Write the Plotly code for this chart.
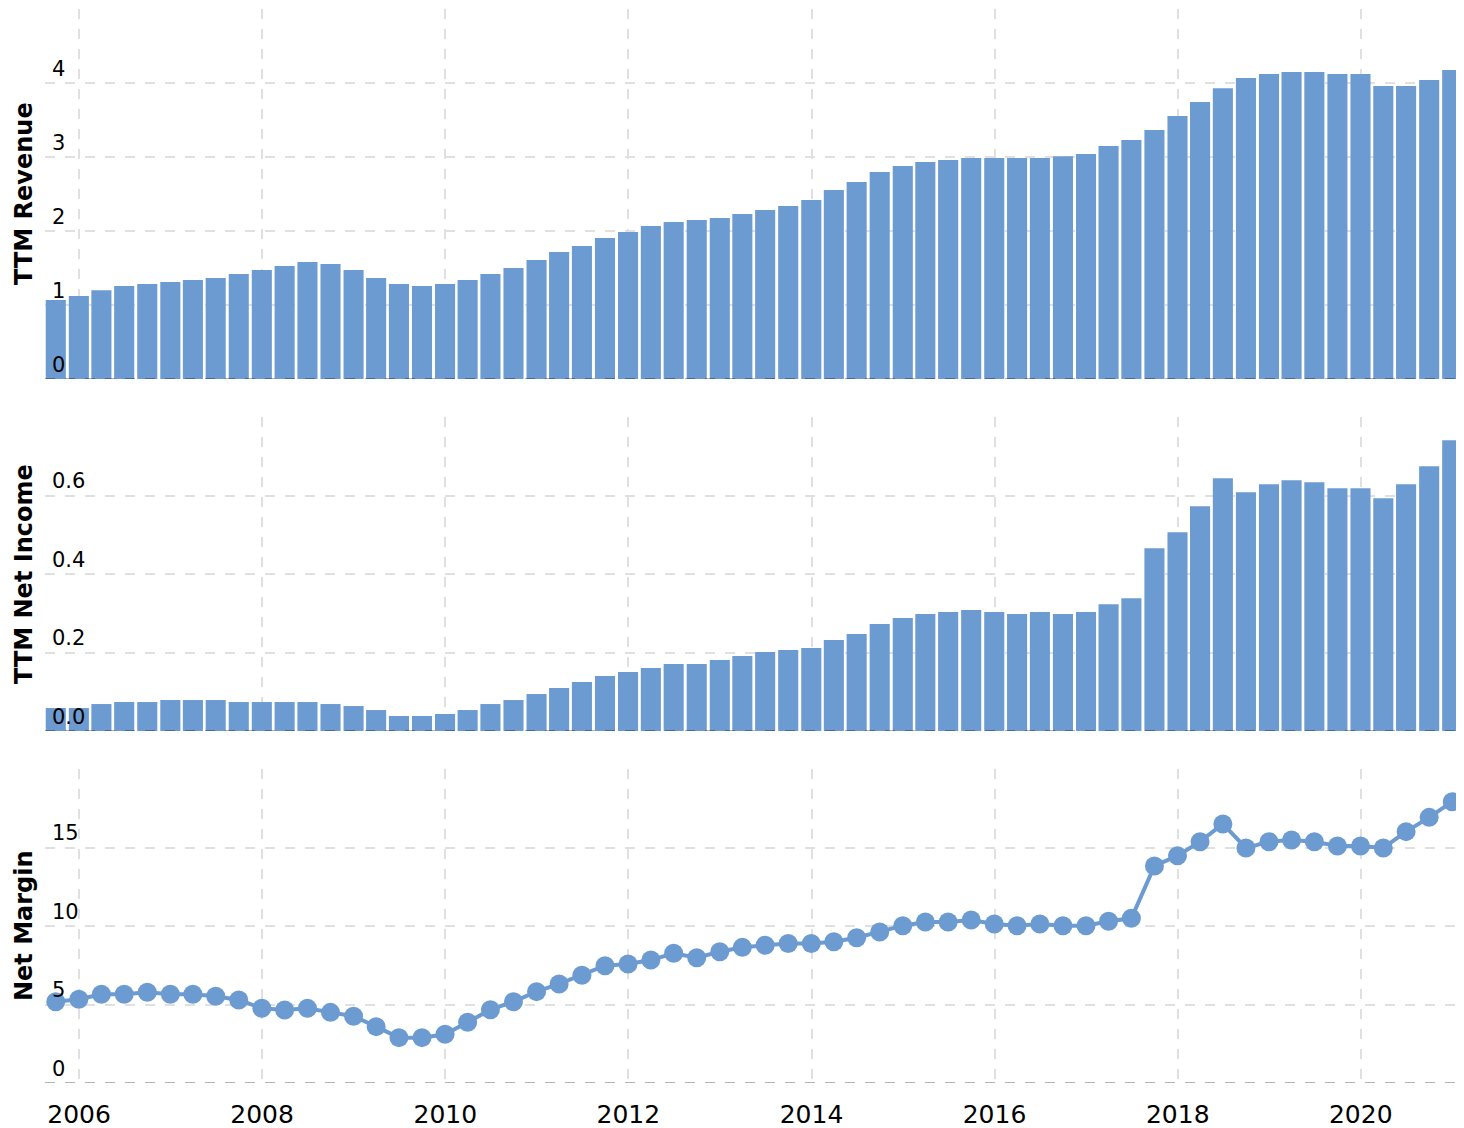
import plotly.graph_objects as go
from plotly.subplots import make_subplots

quarters = [
    "2005-09-30", "2005-12-31",
    "2006-03-31", "2006-06-30", "2006-09-30", "2006-12-31",
    "2007-03-31", "2007-06-30", "2007-09-30", "2007-12-31",
    "2008-03-31", "2008-06-30", "2008-09-30", "2008-12-31",
    "2009-03-31", "2009-06-30", "2009-09-30", "2009-12-31",
    "2010-03-31", "2010-06-30", "2010-09-30", "2010-12-31",
    "2011-03-31", "2011-06-30", "2011-09-30", "2011-12-31",
    "2012-03-31", "2012-06-30", "2012-09-30", "2012-12-31",
    "2013-03-31", "2013-06-30", "2013-09-30", "2013-12-31",
    "2014-03-31", "2014-06-30", "2014-09-30", "2014-12-31",
    "2015-03-31", "2015-06-30", "2015-09-30", "2015-12-31",
    "2016-03-31", "2016-06-30", "2016-09-30", "2016-12-31",
    "2017-03-31", "2017-06-30", "2017-09-30", "2017-12-31",
    "2018-03-31", "2018-06-30", "2018-09-30", "2018-12-31",
    "2019-03-31", "2019-06-30", "2019-09-30", "2019-12-31",
    "2020-03-31", "2020-06-30", "2020-09-30", "2020-12-31",
]

ttm_revenue = [
    1.068, 1.12, 1.20, 1.257, 1.284, 1.31, 1.338, 1.365, 1.419, 1.473,
    1.527, 1.581, 1.554, 1.473, 1.365, 1.284, 1.257, 1.284, 1.338, 1.419,
    1.50, 1.608, 1.716, 1.797, 1.905, 1.986, 2.068, 2.12, 2.149, 2.176,
    2.23, 2.284, 2.338, 2.419, 2.554, 2.662, 2.797, 2.878, 2.932, 2.96,
    2.986, 2.986, 2.986, 2.986, 3.01, 3.04, 3.149, 3.23, 3.365, 3.554,
    3.743, 3.93, 4.068, 4.12, 4.149, 4.149, 4.12, 4.12, 3.959, 3.959,
    4.04, 4.176,
]

ttm_net_income = [
    0.0585, 0.0585, 0.0687, 0.0738, 0.0738, 0.0789, 0.0789, 0.0789, 0.0738, 0.0738,
    0.0738, 0.0738, 0.0687, 0.0636, 0.0534, 0.0382, 0.0382, 0.0433, 0.0534, 0.0687,
    0.0789, 0.0942, 0.1094, 0.1247, 0.14, 0.1502, 0.1603, 0.1705, 0.1705, 0.1807,
    0.1909, 0.2011, 0.2062, 0.2112, 0.2316, 0.2469, 0.2723, 0.2876, 0.2978, 0.3029,
    0.308, 0.3029, 0.2978, 0.3029, 0.2978, 0.3029, 0.3232, 0.3385, 0.4658, 0.5065,
    0.5727, 0.6439, 0.6083, 0.6287, 0.6388, 0.6337, 0.6185, 0.6185, 0.593, 0.6287,
    0.6745, 0.7406,
]

net_margin = [
    5.18, 5.33, 5.65, 5.65, 5.78, 5.65, 5.65, 5.52, 5.29, 4.76,
    4.65, 4.76, 4.50, 4.25, 3.59, 2.89, 2.89, 3.10, 3.87, 4.67,
    5.18, 5.82, 6.31, 6.86, 7.47, 7.58, 7.83, 8.26, 7.98, 8.36,
    8.64, 8.77, 8.88, 8.88, 9.00, 9.25, 9.62, 10.02, 10.25, 10.25,
    10.38, 10.13, 10.02, 10.13, 10.02, 10.02, 10.30, 10.49, 13.82, 14.48,
    15.37, 16.50, 14.97, 15.37, 15.48, 15.37, 15.10, 15.10, 14.97, 16.01,
    16.92, 17.92,
]

panel_titles = ["TTM Revenue", "TTM Net Income", "Net Margin"]
rev_ticks = [0, 1, 2, 3, 4, 5]
rev_ticktext = ["0", "1", "2", "3", "4", ""]
ni_ticks = [0, 0.2, 0.4, 0.6, 0.8]
ni_ticktext = ["0.0", "0.2", "0.4", "0.6", ""]
nm_ticks = [0, 5, 10, 15, 20]
nm_ticktext = ["0", "5", "10", "15", ""]

BLUE = "#6b9bd1"
GRID = "#e0e0e0"
FONT = "DejaVu Sans"

fig = make_subplots(rows=3, cols=1, shared_xaxes=True, vertical_spacing=0.03)

fig.add_trace(go.Bar(x=quarters, y=ttm_revenue, marker=dict(color=BLUE, line=dict(width=0)),
                     showlegend=False), row=1, col=1)
fig.add_trace(go.Bar(x=quarters, y=ttm_net_income, marker=dict(color=BLUE, line=dict(width=0)),
                     showlegend=False), row=2, col=1)
fig.add_trace(go.Scatter(x=quarters, y=net_margin, mode="lines+markers",
                         line=dict(color=BLUE, width=4),
                         marker=dict(color=BLUE, size=19),
                         cliponaxis=False,
                         showlegend=False), row=3, col=1)

# page has an 8px body margin; figure is sized so it fits the window
W, H = 1456, 1120
ML, MR, MT, MB = 37, 4, 1, 45
PLOT_H = float(H - MT - MB)
PLOT_W = float(W - ML - MR)
def dom(top_px, bot_px):
    # positions given in page pixels of the reference
    return [(1083 - bot_px) / PLOT_H, (1083 - top_px) / PLOT_H]

doms = [dom(9, 379), dom(417, 731), dom(769, 1083)]

xrange = ["2005-08-18", "2021-01-31"]
xcommon = dict(range=xrange, type="date", tick0="2006-01-01", dtick="M24",
               showgrid=True, gridcolor=GRID, gridwidth=2, griddash="10px,10px",
               zeroline=False, showline=False, ticks="")
fig.update_xaxes(**xcommon)
fig.update_xaxes(showticklabels=False, row=1, col=1)
fig.update_xaxes(showticklabels=False, row=2, col=1)
fig.update_xaxes(showticklabels=True, tickformat="%Y", ticklabelstandoff=14,
                 tickfont=dict(family=FONT, size=25, color="#000"), row=3, col=1)

ycommon = dict(showgrid=True, gridcolor=GRID, gridwidth=2, griddash="10px,10px",
               zeroline=False, showline=False, ticks="", ticklabelposition="inside top",
               ticklabelstandoff=4,
               tickfont=dict(family=FONT, size=21, color="#000"), tickmode="array",
               fixedrange=True)
fig.update_yaxes(**ycommon)
fig.update_yaxes(range=[0, 5], tickvals=rev_ticks, ticktext=rev_ticktext,
                 domain=doms[0], row=1, col=1)
fig.update_yaxes(range=[0, 0.8], tickvals=ni_ticks, ticktext=ni_ticktext,
                 domain=doms[1], row=2, col=1)
fig.update_yaxes(range=[0, 20], tickvals=nm_ticks, ticktext=nm_ticktext,
                 domain=doms[2], row=3, col=1)

# panel titles, rotated, centred on each panel near the left edge
title_x = (16 - ML) / PLOT_W
for text, d in zip(panel_titles, doms):
    fig.add_annotation(text="<b>" + text + "</b>", textangle=-90,
                       xref="paper", yref="paper", x=title_x, y=(d[0] + d[1]) / 2,
                       xanchor="center", yanchor="middle", showarrow=False,
                       font=dict(family=FONT, size=24, color="#000"))

for yref in ["y", "y2", "y3"]:
    fig.add_shape(type="line", xref="paper", x0=0, x1=1, yref=yref, y0=0, y1=0,
                  line=dict(color="rgba(0,0,0,0.3)", width=2, dash="10px,10px"),
                  layer="above")

fig.update_layout(width=W, height=H, bargap=0.11,
                  margin=dict(l=ML, r=MR, t=MT, b=MB, autoexpand=False),
                  plot_bgcolor="white", paper_bgcolor="white",
                  font=dict(family=FONT, color="#000"))

fig.write_html("out.html")
